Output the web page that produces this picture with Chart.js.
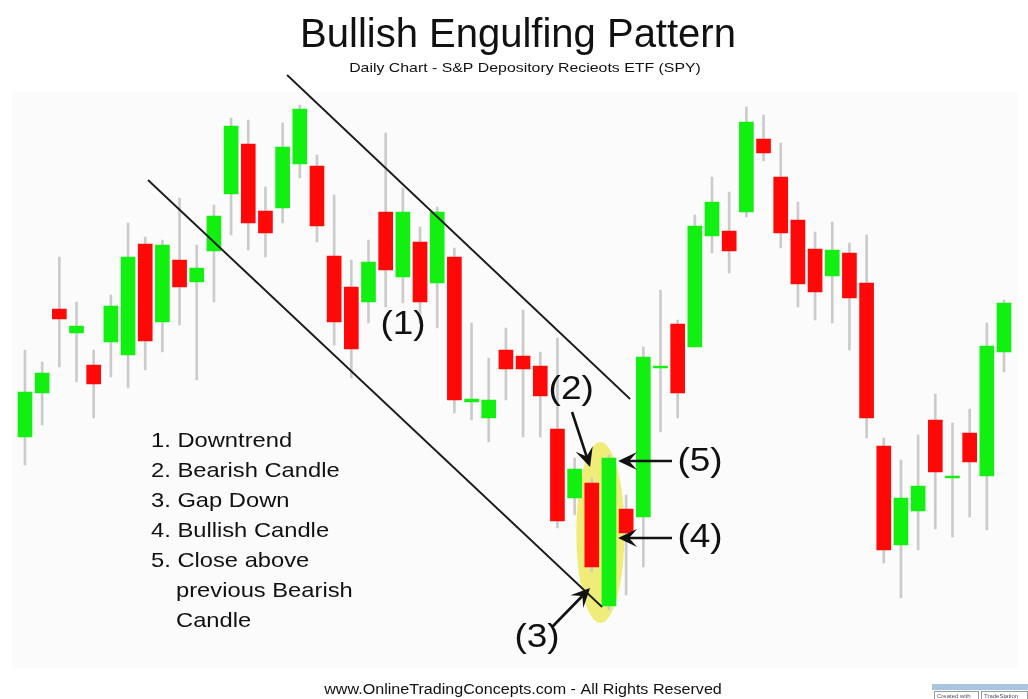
<!DOCTYPE html>
<html><head><meta charset="utf-8">
<script src="https://cdn.jsdelivr.net/npm/chart.js@4"></script>
<style>html,body{margin:0;padding:0;background:#fff;}#wrap{width:1028px;height:699px;position:relative;}</style>
</head><body><div id="wrap"><canvas id="c" width="1028" height="699"></canvas></div>
<script>
// ---- data (price units) ----
const days = Array.from({length:58},(_,i)=>'Day '+(i+1));
const opens  = [52.6,61.4,78.2,73.4,67.0,71.6,69.0,91.2,75.6,88.0,83.6,89.8,101.2,111.2,97.8,98.4,107.2,106.8,88.8,82.6,79.6,97.6,84.6,91.6,83.4,88.6,59.6,56.4,70.0,68.8,66.8,54.2,40.4,43.4,18.8,38.2,36.6,66.4,75.2,70.6,92.8,93.8,97.6,112.2,104.6,96.0,90.2,84.8,89.4,83.4,50.8,31.0,37.8,56.0,44.4,53.4,44.8,69.6];
const highs  = [70.0,67.6,88.6,79.6,70.0,81.0,95.4,92.6,92.0,100.4,91.0,99.0,116.4,116.0,102.6,115.4,119.0,109.0,101.0,88.0,92.0,113.4,102.4,94.6,98.6,90.4,75.4,68.4,74.4,78.0,69.6,72.4,48.4,44.4,49.0,41.0,70.6,82.0,76.0,97.0,104.6,101.6,118.6,117.0,111.4,99.6,93.6,95.6,91.4,93.0,52.4,48.0,53.0,61.2,55.4,58.2,75.4,80.0];
const lows   = [47.0,55.0,66.6,63.6,56.4,64.6,62.4,66.0,69.6,75.0,64.0,79.6,93.0,90.0,88.6,95.4,104.4,91.6,71.0,64.4,75.4,78.6,79.4,75.4,74.4,57.4,56.0,51.6,60.0,52.6,52.6,34.4,37.0,25.6,18.0,21.0,26.6,53.6,56.4,70.6,89.4,85.4,96.6,107.8,90.4,78.6,76.0,75.4,70.0,52.4,27.4,20.4,30.0,34.2,32.6,36.6,34.0,65.6];
const closes = [61.6,65.4,76.2,74.8,63.2,78.8,88.6,71.8,91.0,82.6,86.4,96.8,114.8,95.4,93.4,110.6,118.2,94.8,75.6,70.2,87.6,86.0,97.6,79.6,97.6,60.0,60.2,60.0,66.2,66.2,60.8,35.8,46.2,26.6,48.4,33.4,68.6,66.8,61.4,94.8,99.6,89.8,115.6,109.4,93.4,83.2,81.6,90.0,80.4,56.4,30.0,40.4,42.8,45.6,44.8,47.6,70.8,79.4];

// trend channel lines (x = candle index, y = price)
const trendLower = [{x:7.16,y:104.0},{x:33.6,y:18.6}];
const trendUpper = [{x:15.26,y:125.0},{x:35.23,y:60.2}];

// engulfing pair highlighted (candle indices)
const highlightPair = [33,34];

// annotation labels & arrows (x = candle index, y = price)
const arrowNotes = [
  {label:'(2)', lx:31.8, ly:62.0, from:{x:31.85,y:57.6}, to:{x:32.9,y:46.6}},
  {label:'(5)', lx:39.3, ly:47.6, from:{x:37.67,y:47.8}, to:{x:34.53,y:47.8}},
  {label:'(4)', lx:39.3, ly:32.4, from:{x:37.67,y:32.4}, to:{x:34.53,y:32.4}},
  {label:'(3)', lx:29.81, ly:12.4, from:{x:30.69,y:14.6}, to:{x:32.9,y:22.4}}
];
const trendNote = {label:'(1)', lx:22.01, ly:75.0};
const legendLines = ['1. Downtrend','2. Bearish Candle','3. Gap Down','4. Bullish Candle','5. Close above','   previous Bearish','   Candle'];
const titleText = 'Bullish Engulfing Pattern';
const subtitleText = 'Daily Chart - S&P Depository Recieots ETF (SPY)';
const footerText = 'www.OnlineTradingConcepts.com - All Rights Reserved';

const GREEN = '#12f012', RED = '#ff0808', WICK = '#cbcbcb';
const FONT = '"Liberation Sans", Arial, sans-serif';

const bodyColors = opens.map((o,i)=> closes[i] >= o ? GREEN : RED);

// draw text with a horizontal stretch (text stays real text)
function stretchText(c, txt, x, y, sx, align){
  c.save();
  c.translate(x, y); c.scale(sx, 1);
  c.textAlign = align;
  c.fillText(txt, 0, 0);
  c.restore();
}

const decor = {
  id:'decor',
  beforeDraw(chart){
    const c = chart.ctx;
    c.save();
    c.fillStyle = '#ffffff';
    c.fillRect(0,0,chart.width,chart.height);
    c.fillStyle = '#fbfbfb';
    c.fillRect(12,92,1006,576);
    c.restore();
  },
  beforeDatasetsDraw(chart){
    const c = chart.ctx, xs = chart.scales.x2, ys = chart.scales.y;
    const [a,b] = highlightPair;
    const hi = Math.max(highs[a],highs[b]), lo = Math.min(lows[a],lows[b]);
    const cx = xs.getPixelForValue((a+b)/2);
    const yTop = ys.getPixelForValue(hi), yBot = ys.getPixelForValue(lo);
    const cy = (yTop+yBot)/2, ry = (yBot-yTop)/2 + 13;
    const rx = (xs.getPixelForValue(b)-xs.getPixelForValue(a)) * 1.4;
    c.save();
    c.fillStyle = 'rgba(236,234,96,0.85)';
    c.beginPath();
    c.ellipse(cx,cy,rx,ry,0,0,Math.PI*2);
    c.fill();
    c.restore();
  },
  afterDatasetsDraw(chart){
    const c = chart.ctx, xs = chart.scales.x2, ys = chart.scales.y;
    const P = (p)=>[xs.getPixelForValue(p.x), ys.getPixelForValue(p.y)];
    c.save();
    c.fillStyle = '#111'; c.strokeStyle = '#111';
    // title
    c.textBaseline = 'alphabetic';
    c.font = '40px '+FONT; stretchText(c, titleText, 518, 47, 1, 'center');
    c.font = '13px '+FONT; stretchText(c, subtitleText, 525, 72, 1.22, 'center');
    c.font = '14px '+FONT; stretchText(c, footerText, 523, 694, 1.15, 'center');
    // legend list
    c.font = '21px '+FONT;
    legendLines.forEach((t,i)=>{
      const txt = t.trim();
      const x = t.startsWith(' ') ? 176 : 151;
      stretchText(c, txt, x, 447 + i*30, 1.13, 'left');
    });
    // (1)
    c.textBaseline = 'middle'; c.font = '33px '+FONT;
    stretchText(c, trendNote.label, xs.getPixelForValue(trendNote.lx), ys.getPixelForValue(trendNote.ly), 1.12, 'center');
    // arrows
    arrowNotes.forEach(n=>{
      const [x1,y1] = P(n.from), [x2,y2] = P(n.to);
      const ang = Math.atan2(y2-y1, x2-x1);
      c.lineWidth = 2.6;
      c.beginPath(); c.moveTo(x1,y1);
      c.lineTo(x2 - Math.cos(ang)*8, y2 - Math.sin(ang)*8); c.stroke();
      const L = 19, W = 9, N = 11;
      const bx = x2 - Math.cos(ang)*L, by = y2 - Math.sin(ang)*L;
      const nx = -Math.sin(ang), ny = Math.cos(ang);
      c.beginPath();
      c.moveTo(x2,y2);
      c.lineTo(bx + nx*W, by + ny*W);
      c.lineTo(x2 - Math.cos(ang)*N, y2 - Math.sin(ang)*N);
      c.lineTo(bx - nx*W, by - ny*W);
      c.closePath(); c.fill();
      c.font = '33px '+FONT;
      stretchText(c, n.label, xs.getPixelForValue(n.lx), ys.getPixelForValue(n.ly), 1.12, 'center');
    });
    // small badge
    c.textBaseline='alphabetic';
    c.fillStyle = '#a8c4de'; c.fillRect(932,684,96,6);
    c.strokeStyle = '#9a9a9a'; c.lineWidth = 1;
    c.strokeRect(934.5,691.5,44,8); c.strokeRect(981.5,691.5,46,8);
    c.fillStyle = '#555'; c.font = '6px '+FONT; c.textAlign='left';
    c.fillText('Created with', 937, 698); c.fillText('TradeStation', 984, 698);
    c.restore();
  }
};

new Chart(document.getElementById('c'), {
  type:'bar',
  data:{
    labels: days,
    datasets:[
      {label:'Wick', data: lows.map((l,i)=>[l,highs[i]]), backgroundColor: WICK, barThickness:2, grouped:false, order:3},
      {label:'Body', data: opens.map((o,i)=>[o,closes[i]]), backgroundColor: bodyColors, barThickness:14, grouped:false, order:2, minBarLength:2},
      {type:'line', label:'Lower trend', xAxisID:'x2', data: trendLower, borderColor:'#1a1a1a', borderWidth:1.8, pointRadius:0, fill:false, order:1},
      {type:'line', label:'Upper trend', xAxisID:'x2', data: trendUpper, borderColor:'#1a1a1a', borderWidth:1.8, pointRadius:0, fill:false, order:1}
    ]
  },
  options:{
    responsive:false, animation:false, devicePixelRatio:1,
    layout:{padding:{left:16.4, right:15.4, top:0, bottom:0}},
    plugins:{legend:{display:false}, tooltip:{enabled:false}, title:{display:false}},
    scales:{
      x:{type:'category', offset:true, display:false, grid:{display:false}},
      x2:{type:'linear', min:-0.5, max:57.5, offset:false, bounds:'ticks', display:false, grid:{offset:false}},
      y:{min:0.2, max:140, display:false}
    }
  },
  plugins:[decor]
});
</script></body></html>
